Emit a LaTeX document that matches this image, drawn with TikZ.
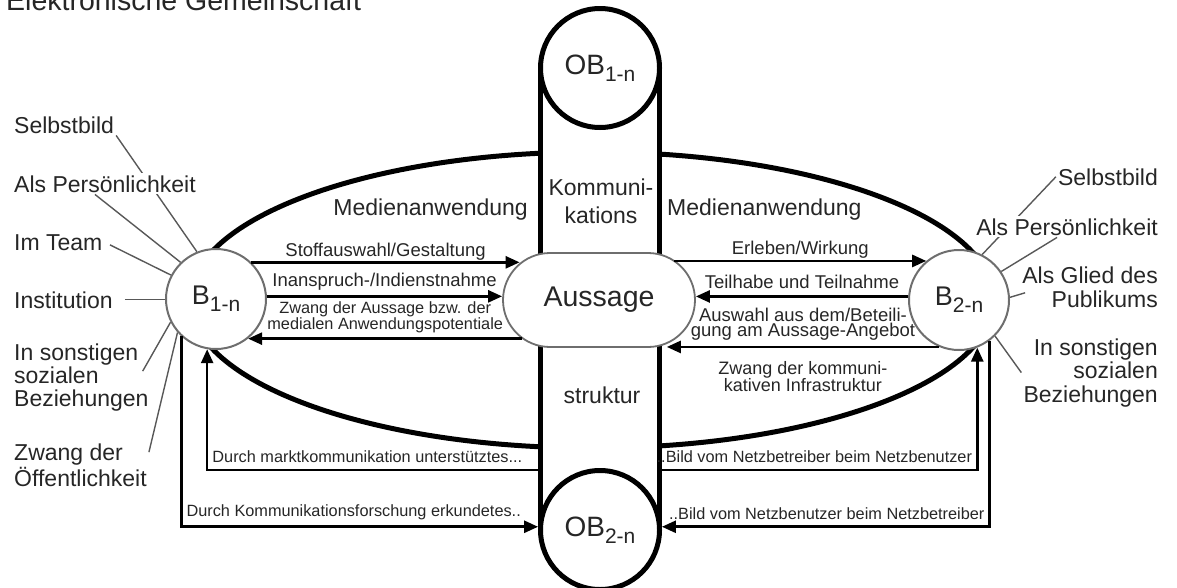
\documentclass[tikz,border=0pt]{standalone}
\usepackage{fontspec}
\setmainfont{Liberation Sans}
\usepackage{tikz}
\usetikzlibrary{calc,arrows.meta}
\usetikzlibrary{shapes.misc}
\definecolor{ink}{HTML}{262626}
\definecolor{rim}{HTML}{6E6E6E}
\newcommand{\lowidx}[1]{\raisebox{-.25em}{\fontsize{21}{21}\selectfont #1}}

\begin{document}
\begin{tikzpicture}[x=1pt,y=-1pt,
	every node/.style={text=ink},
	heavy/.style={line width=5pt},
	obnode/.style={draw,circle,heavy,fill=white,minimum size=119pt,inner sep=0pt,font=\fontsize{28}{28}\selectfont},
	bnode/.style={draw=rim,circle,line width=2pt,fill=white,minimum size=100pt,inner sep=0pt,font=\fontsize{27}{27}\selectfont},
	msgnode/.style={draw=rim,rounded rectangle,line width=1.8pt,fill=white,minimum width=192pt,minimum height=94pt,inner sep=0pt,font=\fontsize{28.5}{30}\selectfont},
	arr/.style={line width=2.6pt,-{Triangle[length=14pt,width=12pt]}},
	tie/.style={draw=rim!80!black,line width=1.4pt},
	lab/.style={font=\fontsize{23}{23}\selectfont,inner sep=2pt},
	small/.style={font=\fontsize{18.5}{15}\selectfont,inner sep=1pt,align=center},
	tiny/.style={font=\fontsize{16.3}{15}\selectfont,inner xsep=4pt,inner ysep=6pt}]
	
	\useasboundingbox (0,0) rectangle (1177,587);
	\node[anchor=base west,inner sep=0pt,font=\fontsize{28.5}{30}\selectfont] (title) at (6,10) {Elektronische Gemeinschaft};
	
	%frame and column
	\draw[heavy] (592,300) ellipse [x radius=402, y radius=148];
	\node[fill=white,minimum width=119pt,minimum height=462pt,inner sep=0pt,outer sep=0pt] (kstr) at (600,299) {};
	\draw[heavy] (kstr.north west) -- (kstr.south west) (kstr.north east) -- (kstr.south east);
	\node[obnode] (OB1) at (600,68) {OB\lowidx{1-n}};
	\node[obnode] (OB2) at (600,530) {OB\lowidx{2-n}};
	\node[msgnode] (msg) at (599,300) {Aussage};
	\node[bnode] (B1) at (216,299) {B\lowidx{1-n}};
	\node[bnode] (B2) at (959,300) {B\lowidx{2-n}};
	
	\node[lab,align=center,anchor=base,font=\fontsize{23}{28}\selectfont] (komm) at (601,223) {Kommuni-\\kations};
	\node[lab,anchor=base] (struk) at (602,403) {struktur};
	\node[lab,anchor=base east] (med1) at (530,215) {Medienanwendung};
	\node[lab,anchor=base west] (med2) at (665,215) {Medienanwendung};
	
	%left side
	\node[lab,anchor=base west] (selbst1) at (12,133) {Selbstbild};
	\draw[tie] (selbst1.south east) -- (B1.112);
	\node[lab,anchor=base west,fill=white] (pers1) at (12,192) {Als Persönlichkeit};
	\draw[tie] ($(pers1.south)+(-10,0)$) -- (B1.134);
	\node[lab,anchor=base west] (team1) at (12,250) {Im Team};
	\draw[tie,shorten <=6pt] (team1.east) -- (B1.152);
	\node[lab,anchor=base west] (inst1) at (12,308) {Institution};
	\draw[tie,shorten <=10pt] (inst1.east) -- (inst1.east -| B1.west);
	\node[lab,anchor=base west,align=left] (sonst1) at (12,406) {In sonstigen\\sozialen\\Beziehungen};
	\draw[tie] ($(sonst1.north east)+(-8,30)$) -- (B1.207);
	\node[lab,anchor=base west,align=left,font=\fontsize{23}{24}\selectfont] (zwang1) at (12,486) {Zwang der\\Öffentlichkeit};
	\draw[tie] ($(zwang1.north east)+(0,10)$) -- (B1.221);
	
	%right side
	\node[lab,anchor=base east] (selbst2) at (1160,185) {Selbstbild};
	\draw[tie] (selbst2.west) -- (B2.63);
	\node[lab,anchor=base east,fill=white] (pers2) at (1160,235) {Als Persönlichkeit};
	\draw[tie] ($(pers2.south)+(-10,0)$) -- (B2.34);
	\node[lab,anchor=base east,align=right,font=\fontsize{23}{24}\selectfont] (glied2) at (1160,307) {Als Glied des\\Publikums};
	\draw[tie] ($(glied2.west)+(5,6)$) -- (B2.3);
	\node[lab,anchor=base east,align=right,font=\fontsize{23}{23.5}\selectfont] (sonst2) at (1160,402) {In sonstigen\\sozialen\\Beziehungen};
	\draw[tie] (sonst2.west) -- (B2.-45);
	
	%edges
	\draw[arr] (B1.46) -- node[small,above] (t1) {Stoffauswahl/Gestaltung} (B1.46 -| msg.155);
	\draw[arr] (B1.3) -- node[small,above=4pt] (t2) {Inanspruch-/Indienstnahme} (B1.3 -| msg.west);
	\draw[arr] (msg.207 |- B1.-51) -- node[small,above=3pt,font=\fontsize{16.3}{15}\selectfont] (t3) {Zwang der Aussage bzw. der\\medialen Anwendungspotentiale} (B1.-51);
	\draw[arr] (msg.28 |- B2.130) -- node[small,above] (t4) {Erleben/Wirkung} (B2.130);
	\draw[arr] (B2.176) -- node[small,above=5pt] (t5) {Teilhabe und Teilnahme} (B2.176 -| msg.east);
	\draw[arr] (B2.-113) -- node[small,above=4pt,font=\fontsize{18.5}{15}\selectfont] (t6) {Auswahl aus dem/Beteili-\\gung am Aussage-Angebot}
		node[small,below=12pt,font=\fontsize{18}{17}\selectfont] (t7) {Zwang der kommuni-\\kativen Infrastruktur} (B2.-113 -| msg.-33);
	
	\coordinate (mkt) at (541,470);
	\coordinate (nbt) at (659,470);
	\draw[arr] (mkt) -| node[tiny,pos=0.5,above right] (t8) {Durch marktkommunikation unterstütztes...} (B1.-100);
	\draw[arr] (B1.-133) |- node[tiny,pos=0.5,above right] (t9) {Durch Kommunikationsforschung erkundetes..} (OB2.177);
	\draw[arr] (nbt) -| node[tiny,pos=0.5,above left] (t10) {..Bild vom Netzbetreiber beim Netzbenutzer} (B2.-69);
	\draw[arr] (B2.-53) |- node[tiny,pos=0.5,above left] (t11) {..Bild vom Netzbenutzer beim Netzbetreiber} (OB2.3);
	
\end{tikzpicture}
\end{document}
